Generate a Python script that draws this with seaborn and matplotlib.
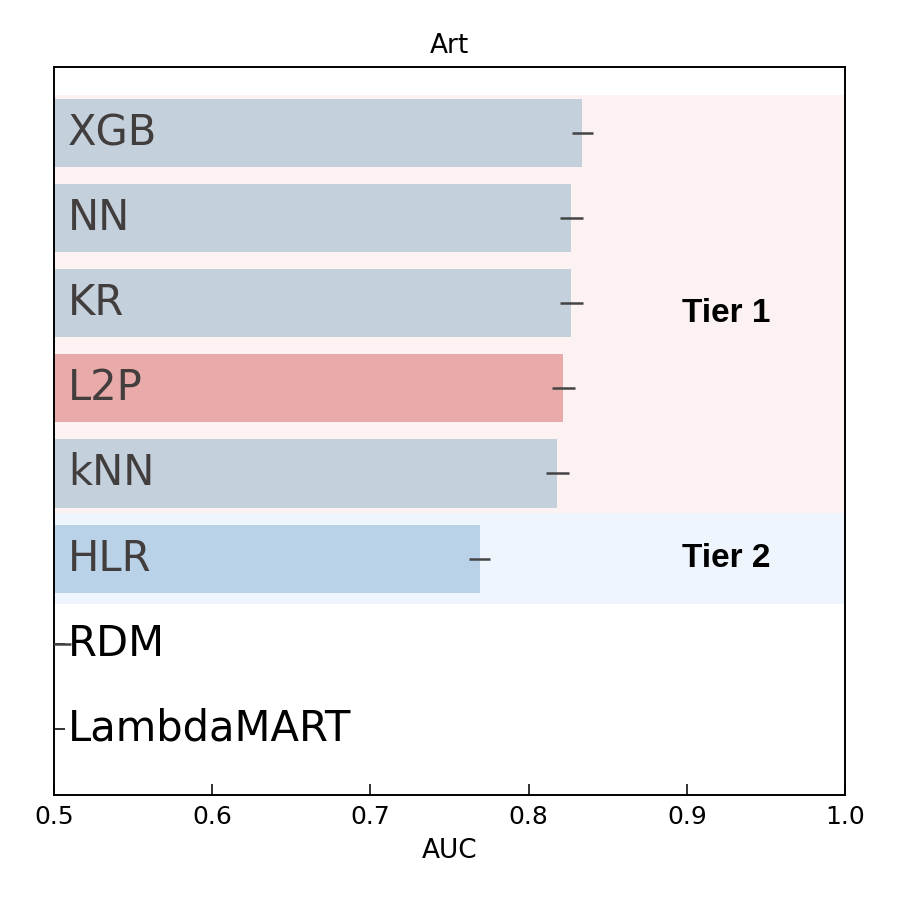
import os
import matplotlib
matplotlib.use("Agg")
import matplotlib.pyplot as plt
from matplotlib import font_manager
import seaborn as sns
import numpy as np
import pandas as pd

# ---- data ----
models = ["XGB", "NN", "KR", "L2P", "kNN", "HLR", "RDM", "LambdaMART"]
auc = [0.834, 0.827, 0.827, 0.822, 0.818, 0.769, 0.500, 0.500]
auc_err = [0.0065, 0.0075, 0.0072, 0.007, 0.0072, 0.0065, 0.011, np.nan]
bar_colors = ["#c4d0dc", "#c4d0dc", "#c4d0dc", "#e9aaaa", "#c4d0dc", "#bad2e8", "#c4d0dc", "#c4d0dc"]
label_colors = ["#433e3e"] * 6 + ["#000000", "#000000"]
tiers = ["Tier 1", "Tier 2"]
tier_spans = [(-0.45, 4.46), (4.46, 5.54)]
tier_label_y = [2.12, 5.0]
tier_bg = ["#fbf2f1", "#eff5fd"]
title = "Art"
xlabel = "AUC"
xticks = [0.5, 0.6, 0.7, 0.8, 0.9, 1.0]

df = pd.DataFrame({"model": models, "auc": auc, "err": auc_err})

sns.set_style("white")

# make sure DejaVu Sans is really used for ordinary text
dv_path = os.path.join(matplotlib.get_data_path(), "fonts", "ttf", "DejaVuSans.ttf")
if os.path.exists(dv_path):
    font_manager.fontManager.addfont(dv_path)
plt.rcParams["font.family"] = ["DejaVu Sans"]
plt.rcParams["font.sans-serif"] = ["DejaVu Sans"]

def dv(size):
    if os.path.exists(dv_path):
        return font_manager.FontProperties(fname=dv_path, size=size)
    return font_manager.FontProperties(family="DejaVu Sans", size=size)

# bold Helvetica-like font for tier labels
tier_fp = None
for f in font_manager.findSystemFonts():
    if f.endswith("LiberationSans-Bold.ttf"):
        tier_fp = font_manager.FontProperties(fname=f, size=24)
        break
if tier_fp is None:
    tier_fp = font_manager.FontProperties(family=["Liberation Sans", "DejaVu Sans"], weight="bold", size=24)

fig = plt.figure(figsize=(9, 9), dpi=100)
ax = fig.add_axes([0.06, 0.1167, 0.879, 0.8089])

for (a, b), bg in zip(tier_spans, tier_bg):
    ax.axhspan(a, b, color=bg, zorder=0, lw=0)

sns.barplot(data=df, x="auc", y="model", hue="model", palette=bar_colors, saturation=1,
            orient="h", errorbar=None, width=0.8, legend=False, ax=ax, zorder=2,
            edgecolor="none", linewidth=0)

mask = ~df["err"].isna()
ax.errorbar(df.loc[mask, "auc"], np.arange(len(models))[mask], xerr=df.loc[mask, "err"],
            fmt="none", ecolor="#444444", elinewidth=1.8, capsize=0, zorder=3)

for i, (m, c) in enumerate(zip(models, label_colors)):
    ax.text(0.509, i, m, ha="left", va="center", fontproperties=dv(30), color=c, zorder=4)

for t, yc in zip(tiers, tier_label_y):
    ax.text(0.925, yc, t, ha="center", va="center", fontproperties=tier_fp,
            color="black", zorder=4)

ax.set_xlim(0.5, 1.0)
ax.set_ylim(7.78, -0.78)
ax.set_xticks(xticks)
ax.set_xticklabels([f"{v:.1f}" for v in xticks], fontproperties=dv(18))
ax.set_yticks(range(len(models)))
ax.set_yticklabels([])
ax.tick_params(axis="both", direction="in", length=8, width=1.3, color="#222222",
               left=True, bottom=True, top=False, right=False)
ax.tick_params(axis="x", pad=7, labelcolor="black")
ax.set_xlabel(xlabel, fontproperties=dv(19), labelpad=7, color="black")
ax.set_ylabel("")
ax.set_title(title, fontproperties=dv(19), pad=10, color="black")
for s in ax.spines.values():
    s.set_visible(True)
    s.set_color("black")
    s.set_linewidth(1.4)

fig.savefig("out.png", dpi=100, facecolor="white")
